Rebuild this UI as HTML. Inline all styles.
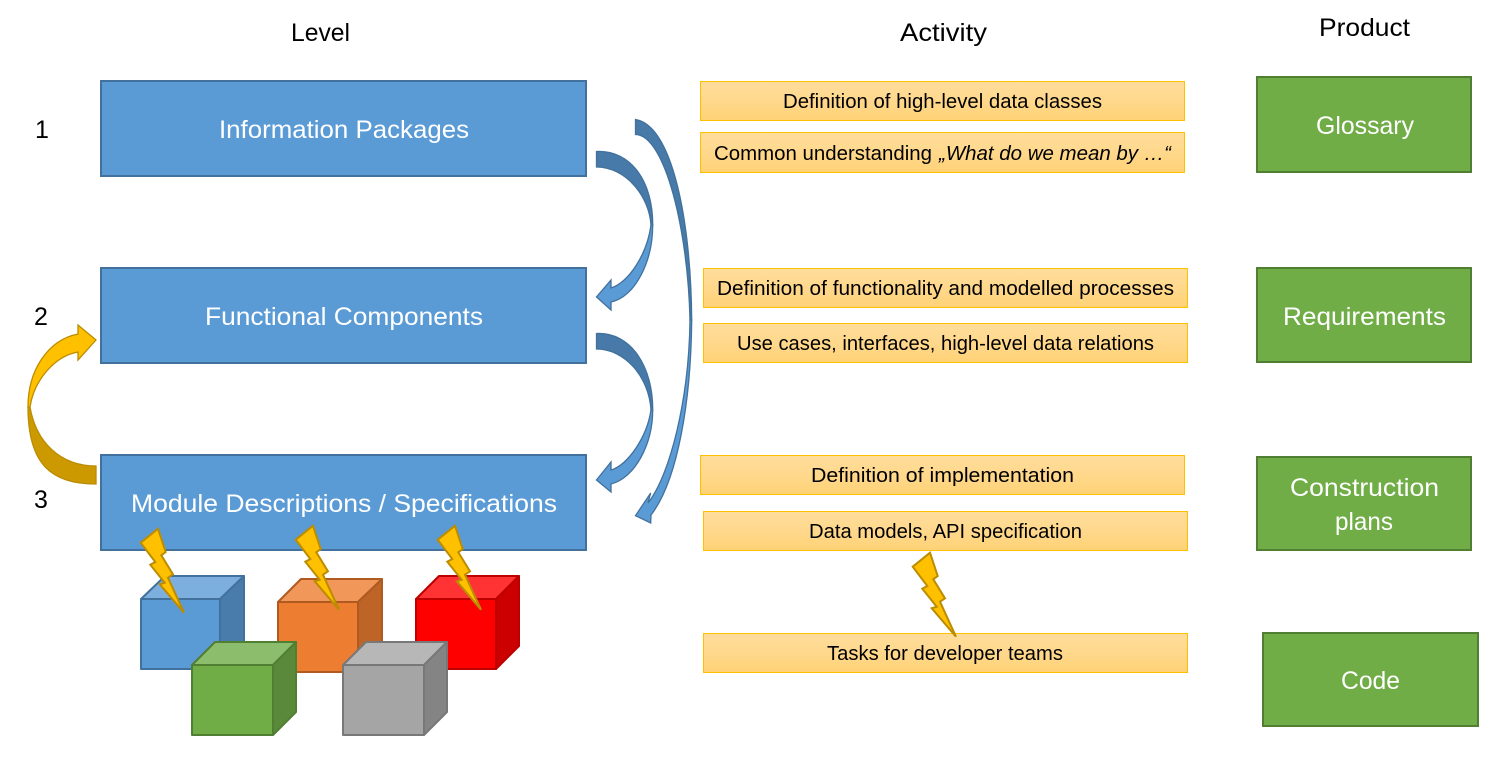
<!DOCTYPE html>
<html><head><meta charset="utf-8"><style>
html,body{margin:0;padding:0;background:#fff}
svg{display:block}
text{font-family:"Liberation Sans",sans-serif;fill:#000}
.w{fill:#fff;font-size:25px}
.o{font-size:20px}
.h{font-size:25px}
</style></head><body>
<svg xmlns="http://www.w3.org/2000/svg" width="1507" height="762" viewBox="0 0 1507 762">
<defs>
<linearGradient id="g" x1="0" y1="0" x2="0" y2="1"><stop offset="0" stop-color="#ffdd9c"/><stop offset="0.5" stop-color="#ffd88c"/><stop offset="1" stop-color="#ffd276"/></linearGradient>
<polygon id="bolt" points="158,528.7 165.7,552 161.3,555.3 173,574.3 168,577.7 184,612.7 159.7,584.3 164.7,582.7 150.3,564.7 155.3,562 140.7,542.7" stroke-width="2" stroke-linejoin="miter"/>
</defs>
<rect width="1507" height="762" fill="#fff"/>

<text class="h" x="291" y="41" textLength="59" lengthAdjust="spacingAndGlyphs">Level</text>
<text class="h" x="900" y="41" textLength="87" lengthAdjust="spacingAndGlyphs">Activity</text>
<text class="h" x="1319" y="36" textLength="91" lengthAdjust="spacingAndGlyphs">Product</text>
<text class="h" x="35" y="138">1</text>
<text class="h" x="34" y="325">2</text>
<text class="h" x="34" y="508">3</text>

<g fill="#5b9bd5" stroke="#41719c" stroke-width="2">
<rect x="101" y="81" width="485" height="95"/>
<rect x="101" y="268" width="485" height="95"/>
<rect x="101" y="455" width="485" height="95"/>
</g>
<text class="w" x="219" y="138" textLength="250" lengthAdjust="spacingAndGlyphs">Information Packages</text>
<text class="w" x="205" y="325" textLength="278" lengthAdjust="spacingAndGlyphs">Functional Components</text>
<text class="w" x="131" y="512" textLength="426" lengthAdjust="spacingAndGlyphs">Module Descriptions / Specifications</text>

<g fill="#70ad47" stroke="#507e32" stroke-width="2">
<rect x="1257" y="77" width="214" height="95"/>
<rect x="1257" y="268" width="214" height="94"/>
<rect x="1257" y="457" width="214" height="93"/>
<rect x="1263" y="633" width="215" height="93"/>
</g>
<text class="w" x="1316" y="134" textLength="98" lengthAdjust="spacingAndGlyphs">Glossary</text>
<text class="w" x="1283" y="325" textLength="163" lengthAdjust="spacingAndGlyphs">Requirements</text>
<text class="w" x="1290" y="496" textLength="149" lengthAdjust="spacingAndGlyphs">Construction</text>
<text class="w" x="1335" y="530" textLength="58" lengthAdjust="spacingAndGlyphs">plans</text>
<text class="w" x="1341" y="689" textLength="59" lengthAdjust="spacingAndGlyphs">Code</text>

<g fill="url(#g)" stroke="#ffc000" stroke-width="1">
<rect x="700.5" y="81.5" width="484" height="39"/>
<rect x="700.5" y="132.5" width="484" height="40"/>
<rect x="703.5" y="268.5" width="484" height="39"/>
<rect x="703.5" y="323.5" width="484" height="39"/>
<rect x="700.5" y="455.5" width="484" height="39"/>
<rect x="703.5" y="511.5" width="484" height="39"/>
<rect x="703.5" y="633.5" width="484" height="39"/>
</g>
<text class="o" x="783" y="108" textLength="319" lengthAdjust="spacingAndGlyphs">Definition of high-level data classes</text>
<text class="o" x="714" y="160" textLength="218" lengthAdjust="spacingAndGlyphs">Common understanding</text>
<text class="o" x="939" y="160" textLength="232" lengthAdjust="spacingAndGlyphs" font-style="italic">„What do we mean by …“</text>
<text class="o" x="717" y="295" textLength="457" lengthAdjust="spacingAndGlyphs">Definition of functionality and modelled processes</text>
<text class="o" x="737" y="350" textLength="417" lengthAdjust="spacingAndGlyphs">Use cases, interfaces, high-level data relations</text>
<text class="o" x="811" y="482" textLength="263" lengthAdjust="spacingAndGlyphs">Definition of implementation</text>
<text class="o" x="809" y="538" textLength="273" lengthAdjust="spacingAndGlyphs">Data models, API specification</text>
<text class="o" x="827" y="660" textLength="236" lengthAdjust="spacingAndGlyphs">Tasks for developer teams</text>

<!-- curved arrows -->
<g stroke="#41719c" stroke-width="1.3" stroke-linejoin="miter">
<path d="M596.5,151.5 C632,150 653,183 652.7,225 L651,225 C649,195 625,167 596.5,167 Z" fill="#477aa9"/>
<path d="M652.7,225 C652.7,262 635,297 611,302 L611,310 L596.5,297 L611,280 L611,288 C628,283 647,255 651,225 Z" fill="#5b9bd5"/>
</g>
<g transform="translate(0,182)" stroke="#41719c" stroke-width="1.3">
<path d="M596.5,151.5 C632,150 653,186 652.7,228 L651,228 C649,195 625,167 596.5,167 Z" fill="#477aa9"/>
<path d="M652.7,228 C652.7,262 635,296 611,302 L611,310 L596.5,298 L611,280 L611,288 C628,283 647,255 651,228 Z" fill="#5b9bd5"/>
</g>
<g stroke="#41719c" stroke-width="1.3">
<path d="M635.5,119.5 C672,125 691,220 691.7,320 L690,320 C688,230 665,135 635.5,134.5 Z" fill="#477aa9"/>
<path d="M691.7,320 C691,400 678,480 651,515 L650.7,523 L635.5,515.7 L650.7,493 L648,503 C670,475 689,400 690,320 Z" fill="#5b9bd5"/>
</g>
<g stroke="#bc8c00" stroke-width="1.3">
<path d="M96,466 C60,466 36,442 30,407 L28,407 C28,465 52,484 96,484 Z" fill="#cc9a00"/>
<path d="M28,407 C28,370 48,340 78,334 L78,325 L96,340 L78,360 L78,352 C55,356 34,380 30,407 Z" fill="#ffc000"/>
</g>

<!-- cubes -->
<g stroke-width="2" stroke-linejoin="round">
<g stroke="#41719c">
<rect x="141" y="599" width="79" height="70" fill="#5b9bd5"/>
<polygon points="141,599 165,576 244,576 220,599" fill="#7cafdd"/>
<polygon points="220,599 244,576 244,646 220,669" fill="#497cab"/>
</g>
<g stroke="#ae5a21">
<rect x="278" y="602" width="80" height="70" fill="#ed7d31"/>
<polygon points="278,602 301,579 382,579 358,602" fill="#f19759"/>
<polygon points="358,602 382,579 382,649 358,672" fill="#be6427"/>
</g>
<g stroke="#bc0000">
<rect x="416" y="599" width="80" height="70" fill="#ff0000"/>
<polygon points="416,599 439,576 519,576 496,599" fill="#ff3333"/>
<polygon points="496,599 519,576 519,646 496,669" fill="#cc0000"/>
</g>
<g stroke="#507e32">
<rect x="192" y="665" width="81" height="70" fill="#70ad47"/>
<polygon points="192,665 215,642 296,642 273,665" fill="#8cbd6c"/>
<polygon points="273,665 296,642 296,712 273,735" fill="#5a8a39"/>
</g>
<g stroke="#787878">
<rect x="343" y="665" width="81" height="70" fill="#a5a5a5"/>
<polygon points="343,665 366,642 447,642 424,665" fill="#b7b7b7"/>
<polygon points="424,665 447,642 447,712 424,735" fill="#848484"/>
</g>
</g>

<!-- bolts -->
<g fill="#ffc000" stroke="#bc8c00">
<use href="#bolt"/>
<use href="#bolt" transform="translate(155,-3)"/>
<use href="#bolt" transform="translate(297,-3)"/>
<use href="#bolt" transform="translate(772,24)"/>
</g>
</svg>
</body></html>
